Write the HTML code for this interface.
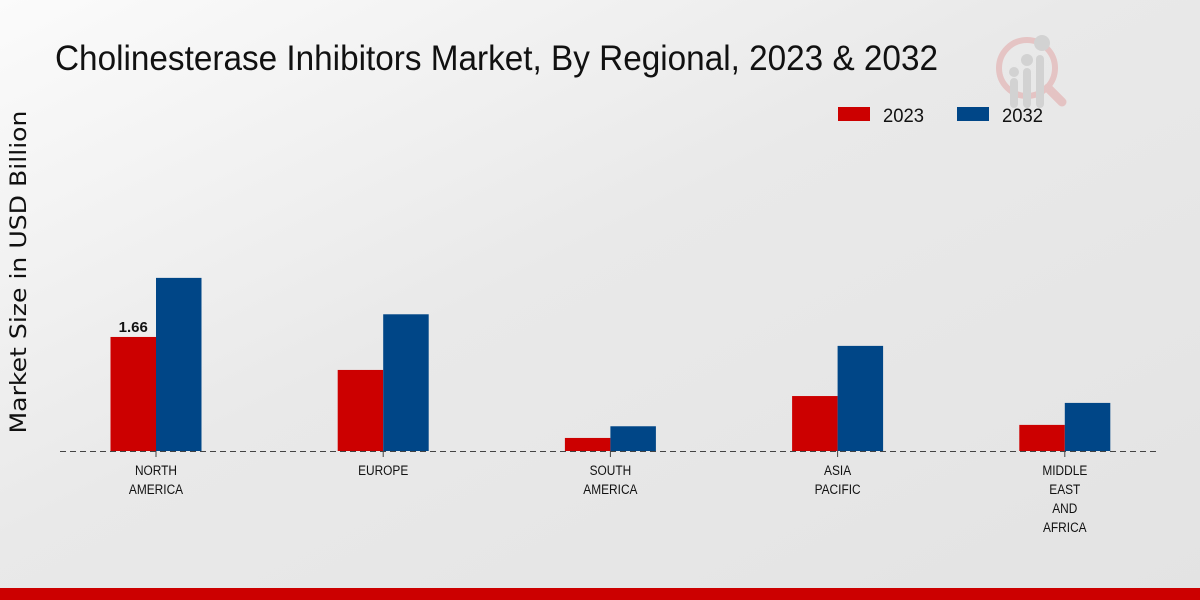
<!DOCTYPE html>
<html><head><meta charset="utf-8"><style>
html,body{margin:0;padding:0;width:1200px;height:600px;overflow:hidden}
svg{display:block}
</style></head><body>
<svg id="chart" width="1200" height="600" viewBox="0 0 1200 600" xmlns="http://www.w3.org/2000/svg">
<defs>
<linearGradient id="bg" x1="0" y1="0" x2="1" y2="1">
<stop offset="0" stop-color="#fbfbfb"/><stop offset="0.45" stop-color="#e9e9e9"/><stop offset="1" stop-color="#e3e3e3"/>
</linearGradient>
</defs>
<rect width="1200" height="600" fill="url(#bg)"/>
<rect x="0" y="588" width="1200" height="12" fill="#cc0000"/>
<text x="55" y="70" font-family="Liberation Sans, sans-serif" font-size="35" fill="#111" textLength="883" lengthAdjust="spacingAndGlyphs">Cholinesterase Inhibitors Market, By Regional, 2023 &amp; 2032</text>
<g opacity="0.5">
<circle cx="1027" cy="68" r="28" fill="none" stroke="#e2a0a0" stroke-width="6"/>
<line x1="1048" y1="88" x2="1062" y2="102" stroke="#e2a0a0" stroke-width="9" stroke-linecap="round"/>
<rect x="1010" y="78" width="8" height="30" rx="4" fill="#bdbdbd"/>
<rect x="1023" y="68" width="8" height="40" rx="4" fill="#bdbdbd"/>
<rect x="1036" y="55" width="8" height="53" rx="4" fill="#bdbdbd"/>
<circle cx="1014" cy="72" r="5" fill="#bdbdbd"/><circle cx="1027" cy="60" r="6" fill="#bdbdbd"/><circle cx="1042" cy="43" r="8" fill="#bdbdbd"/>
</g>
<g>
<rect x="838" y="107" width="32" height="14" fill="#cc0000"/>
<text x="883" y="122" font-family="Liberation Sans, sans-serif" font-size="19" fill="#111" textLength="41" lengthAdjust="spacingAndGlyphs">2023</text>
<rect x="957" y="107" width="32" height="14" fill="#004687"/>
<text x="1002" y="122" font-family="Liberation Sans, sans-serif" font-size="19" fill="#111" textLength="41" lengthAdjust="spacingAndGlyphs">2032</text>
</g>
<text transform="translate(26,272) rotate(-90)" text-anchor="middle" font-family="DejaVu Sans, sans-serif" font-size="22" fill="#111" textLength="323" lengthAdjust="spacingAndGlyphs">Market Size in USD Billion</text>
<g id="bars"></g>
<line x1="60" y1="451.5" x2="1160" y2="451.5" stroke="#444" stroke-width="1" stroke-dasharray="6,4"/>
<g id="xlabels"></g>
</svg>
<script>
const categories = [["NORTH","AMERICA"],["EUROPE"],["SOUTH","AMERICA"],["ASIA","PACIFIC"],["MIDDLE","EAST","AND","AFRICA"]];
const values2023 = [1.66, 1.18, 0.19, 0.80, 0.38];
const values2032 = [2.52, 1.99, 0.36, 1.53, 0.70];
const labels2023 = ["1.66", null, null, null, null];
const NS = "http://www.w3.org/2000/svg";
const baseY = 451, pxPerUnit = 68.7, x0 = 156, step = 227.2, bw = 45.5;
function yScale(v){ return baseY - v * pxPerUnit; }
function xCenter(i){ return x0 + i * step; }
const bars = document.getElementById('bars');
const xl = document.getElementById('xlabels');
function mk(tag, attrs){ const e = document.createElementNS(NS, tag); for (const k in attrs) e.setAttribute(k, attrs[k]); return e; }
categories.forEach((cat, i) => {
  const c = xCenter(i);
  const r1 = mk('rect', {x: c - bw, y: yScale(values2023[i]), width: bw, height: baseY - yScale(values2023[i]), fill: '#cc0000'});
  
  
  bars.appendChild(r1);
  const r2 = mk('rect', {x: c, y: yScale(values2032[i]), width: bw, height: baseY - yScale(values2032[i]), fill: '#004687'});
  
  
  bars.appendChild(r2);
  if (labels2023[i]) {
    const t = mk('text', {x: c - bw/2, y: yScale(values2023[i]) - 5, 'text-anchor': 'middle', 'font-family': 'Liberation Sans, sans-serif', 'font-size': '15', 'font-weight': 'bold', fill: '#111'});
    
    
    t.textContent = labels2023[i];
    bars.appendChild(t);
  }
  const tick = mk('line', {x1: c, y1: baseY, x2: c, y2: baseY + 6, stroke: '#444'});
  
  
  xl.appendChild(tick);
  cat.forEach((line, j) => {
    const t = mk('text', {x: c, y: 475 + j * 19, 'text-anchor': 'middle', 'font-family': 'Liberation Sans, sans-serif', 'font-size': '14', fill: '#111', transform: 'translate(' + c + ',0) scale(0.85,1) translate(' + (-c) + ',0)'});
    
    
    t.textContent = line;
    xl.appendChild(t);
  });
});
</script>
</body></html>
